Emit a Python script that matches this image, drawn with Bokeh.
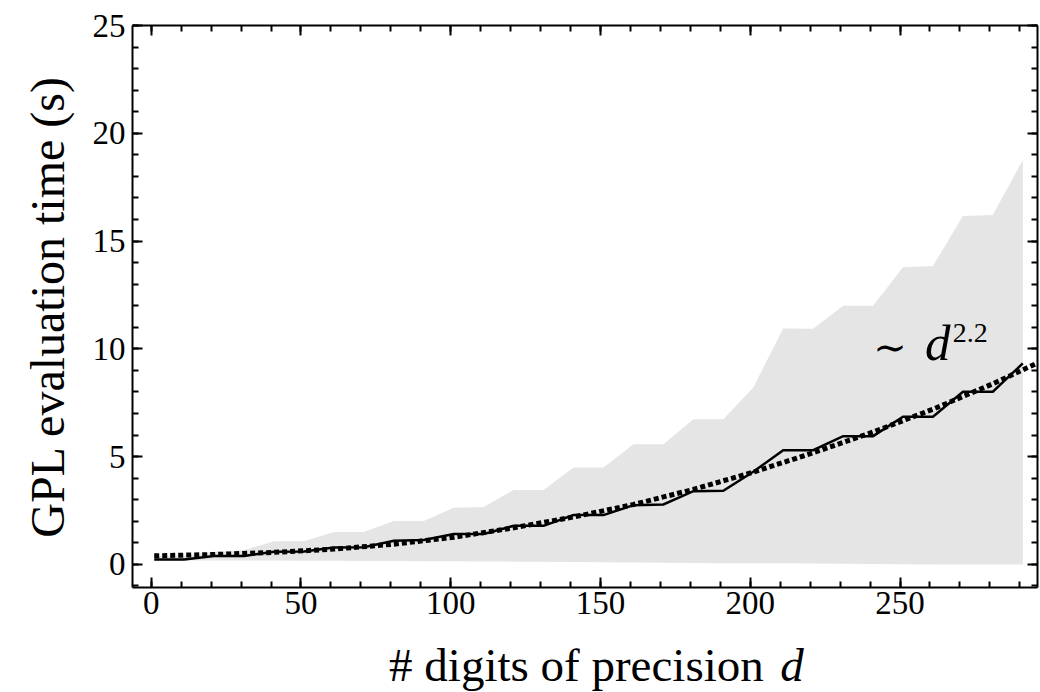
from bokeh.plotting import figure
from bokeh.layouts import column
from bokeh.models import LinearAxis, Range1d, Label, SingleIntervalTicker
from bokeh.embed import file_html
from bokeh.resources import INLINE

# ---- data ----
digits = [1, 11, 21, 31, 41, 51, 61, 71, 81, 91, 101, 111, 121, 131, 141,
          151, 161, 171, 181, 191, 201, 211, 221, 231, 241, 251, 261, 271, 281, 291]
mean_time = [0.23, 0.23, 0.39, 0.39, 0.59, 0.60, 0.79, 0.80, 1.10, 1.13, 1.41, 1.41, 1.79, 1.79, 2.29,
             2.29, 2.75, 2.78, 3.40, 3.42, 4.30, 5.30, 5.30, 5.95, 5.95, 6.85, 6.85, 8.01, 8.01, 9.33]
max_time = [0.38, 0.42, 0.59, 0.66, 1.08, 1.08, 1.50, 1.50, 2.02, 2.02, 2.63, 2.67, 3.45, 3.45, 4.50,
            4.50, 5.58, 5.58, 6.73, 6.73, 8.21, 10.95, 10.93, 12.00, 12.00, 13.78, 13.84, 16.16, 16.21, 18.76]
min_time = [0.18, 0.18, 0.18, 0.18, 0.18, 0.17, 0.17, 0.16, 0.16, 0.15, 0.15, 0.14, 0.13, 0.12, 0.11,
            0.10, 0.09, 0.08, 0.07, 0.06, 0.05, 0.05, 0.04, 0.03, 0.02, 0.01, 0.00, 0.00, 0.00, 0.00]
fit_digits = [1, 21, 41, 61, 81, 101, 121, 141, 161, 181, 201, 221, 241, 261, 281, 296]
fit_time = [0.40, 0.46, 0.56, 0.71, 0.94, 1.26, 1.70, 2.20, 2.78, 3.48, 4.28, 5.18, 6.14, 7.20, 8.38, 9.35]

x_major_ticks = [0, 50, 100, 150, 200, 250]
y_major_ticks = [0, 5, 10, 15, 20, 25]

x_label_main = "# digits of precision"
x_label_var = "d"
y_label = "GPL evaluation time (s)"
fit_label = ["\u223c", "d", "2.2"]

SERIF = "Liberation Serif"

x_range = Range1d(-6.25, 295.9)

p = figure(width=1040, height=630,
           x_range=x_range, y_range=Range1d(-1.07, 25.0),
           output_backend="svg", toolbar_location=None,
           min_border_left=132, min_border_right=3, min_border_top=25, min_border_bottom=43)
p.background_fill_color = "white"
p.border_fill_color = "white"
p.outline_line_color = None
p.xgrid.visible = False
p.ygrid.visible = False

# band, mean line, fit
p.varea(x=digits, y1=min_time, y2=max_time, fill_color="#e5e5e5", fill_alpha=1.0)
p.line(digits, mean_time, line_color="black", line_width=2.5, line_join="miter")
p.line(fit_digits, fit_time, line_color="black", line_width=5, line_dash="5 3", line_cap="butt")


def style_axis(ax, blank_ticks=None):
    ax.axis_line_width = 2
    ax.axis_line_color = "black"
    ax.major_tick_in = 10
    ax.major_tick_out = 0
    ax.major_tick_line_width = 2
    ax.major_tick_line_color = "black"
    ax.minor_tick_in = 6
    ax.minor_tick_out = 0
    ax.minor_tick_line_width = 2
    ax.minor_tick_line_color = "black"
    ax.major_label_text_font = SERIF
    ax.major_label_text_color = "black"
    ax.major_label_text_font_size = "33px"
    if blank_ticks is not None:
        ax.major_label_overrides = {t: "" for t in blank_ticks}
        ax.major_label_standoff = 0


xax = p.xaxis[0]
xax.ticker = SingleIntervalTicker(interval=50, num_minor_ticks=5)
style_axis(xax)
xax.major_label_standoff = 4

yax = p.yaxis[0]
yax.ticker = SingleIntervalTicker(interval=5, num_minor_ticks=5)
style_axis(yax)
yax.major_label_standoff = 7
yax.axis_label = y_label
yax.axis_label_text_font = SERIF
yax.axis_label_text_font_size = "48px"
yax.axis_label_text_font_style = "normal"
yax.axis_label_text_color = "black"
yax.axis_label_standoff = 16

top = LinearAxis(ticker=SingleIntervalTicker(interval=50, num_minor_ticks=5))
style_axis(top, x_major_ticks)
p.add_layout(top, "above")
right = LinearAxis(ticker=SingleIntervalTicker(interval=5, num_minor_ticks=5))
style_axis(right, y_major_ticks)
p.add_layout(right, "right")

# fit annotation  ~ d^2.2
p.add_layout(Label(x=241.1, y=10.10, text=fit_label[0], text_align="left",
                   text_baseline="alphabetic", text_font="DejaVu Serif", text_font_size="40px",
                   text_color="black"))
p.add_layout(Label(x=258.3, y=10.28, text=fit_label[1], text_align="left",
                   text_baseline="alphabetic", text_font=SERIF, text_font_size="51px",
                   text_font_style="italic", text_color="black"))
p.add_layout(Label(x=267.6, y=10.75, text=fit_label[2], text_align="left",
                   text_baseline="alphabetic", text_font=SERIF, text_font_size="28px",
                   text_color="black"))

# strip below for the x-axis title (mixed upright / italic text)
q = figure(width=1040, height=62, x_range=x_range, y_range=Range1d(0, 62),
           output_backend="svg", toolbar_location=None,
           x_axis_location=None, y_axis_location=None,
           min_border_left=132, min_border_right=3, min_border_top=0, min_border_bottom=0)
q.outline_line_color = None
q.xgrid.visible = False
q.ygrid.visible = False
q.background_fill_color = "white"
q.border_fill_color = "white"
q.add_layout(Label(x=204.5, y=28, text=x_label_main, text_align="right",
                   text_baseline="alphabetic", text_font=SERIF, text_font_size="47px",
                   text_color="black"))
q.add_layout(Label(x=210.0, y=28, text=x_label_var, text_align="left",
                   text_baseline="alphabetic", text_font=SERIF, text_font_size="47px",
                   text_font_style="italic", text_color="black"))

layout = column(p, q, spacing=0)
open("out.html", "w").write(file_html(layout, INLINE))
